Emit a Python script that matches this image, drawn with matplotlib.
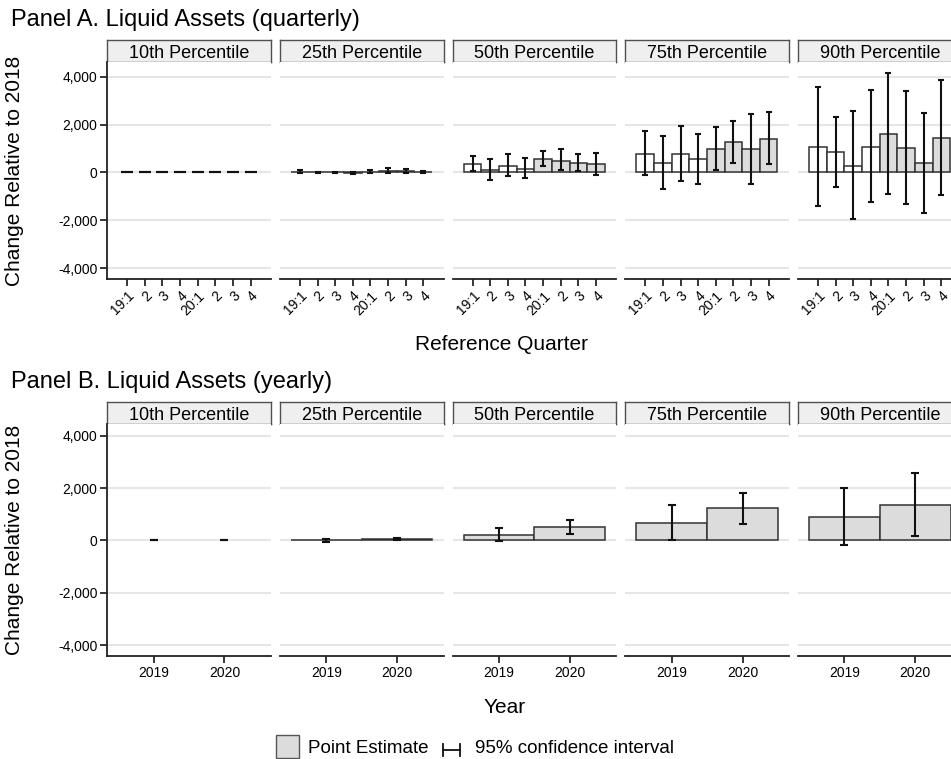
import numpy as np
import matplotlib.pyplot as plt
from matplotlib.patches import Rectangle
from matplotlib.lines import Line2D

plt.rcParams['font.family'] = ['Liberation Sans', 'DejaVu Sans']

# Facet labels and x categories
percentiles = ["10th Percentile", "25th Percentile", "50th Percentile",
               "75th Percentile", "90th Percentile"]
quarters = ["19:1", "2", "3", "4", "20:1", "2", "3", "4"]
years = ["2019", "2020"]
y_ticks = [-4000, -2000, 0, 2000, 4000]
y_tick_labels = ["-4,000", "-2,000", "0", "2,000", "4,000"]

# Panel A: quarterly point estimates and 95% CI, one row per percentile
q_est = [[0, 0, 0, 0, 0, 0, 0, 0],
         [30, 10, 5, -20, 40, 60, 50, 20],
         [350, 100, 280, 155, 575, 490, 390, 335],
         [785, 390, 785, 545, 995, 1260, 965, 1415],
         [1065, 840, 280, 1080, 1625, 1035, 380, 1430]]
q_lo = [[0, 0, 0, 0, 0, 0, 0, 0],
        [-40, -40, -40, -80, -10, -40, -10, -30],
        [60, -320, -130, -240, 280, 85, 56, -100],
        [-125, -690, -335, -475, 125, 405, -475, 335],
        [-1415, -600, -1945, -1245, -910, -1330, -1680, -950]]
q_hi = [[0, 0, 0, 0, 0, 0, 0, 0],
        [100, 40, 40, 30, 120, 180, 150, 70],
        [670, 560, 760, 590, 910, 980, 760, 830],
        [1735, 1510, 1945, 1610, 1905, 2155, 2435, 2535],
        [3570, 2325, 2560, 3445, 4160, 3415, 2490, 3850]]

# Panel B: yearly point estimates and 95% CI
y_est = [[0, 0], [5, 40], [205, 500], [665, 1230], [895, 1355]]
y_lo = [[0, 0], [-50, 0], [-10, 245], [5, 640], [-180, 165]]
y_hi = [[0, 0], [40, 100], [460, 770], [1370, 1830], [2000, 2585]]

W, H = 951, 759
fig = plt.figure(figsize=(W / 100, H / 100), dpi=100)

GRAY = '#dcdcdc'
EDGE = '#333333'


def px_axes(x0, y0, x1, y1):
    return fig.add_axes([x0 / W, 1 - y1 / H, (x1 - x0) / W, (y1 - y0) / H])


panel_x0 = [107.3 + i * 172.7 for i in range(5)]
panel_w = 163.5


def strip(x0, y0, y1, label):
    ax = px_axes(x0, y0, x0 + panel_w, y1)
    ax.set_facecolor('#efefef')
    ax.set_xticks([])
    ax.set_yticks([])
    for s in ax.spines.values():
        s.set_color('#505050')
        s.set_linewidth(1.0)
    ax.text(0.5, 0.48, label, ha='center', va='center_baseline', fontsize=13,
            transform=ax.transAxes)


def draw_panel(ax, est, lo, hi, fills, capsize, first):
    est = np.asarray(est, dtype=float)
    lo = np.asarray(lo, dtype=float)
    hi = np.asarray(hi, dtype=float)
    x = np.arange(1, len(est) + 1)
    nz = est != 0
    if nz.any():
        ax.bar(x[nz], est[nz], width=1.0,
               color=[f for f, m in zip(fills, nz) if m],
               edgecolor=EDGE, linewidth=1.1, zorder=2)
    ax.errorbar(x, est, yerr=[est - lo, hi - est], fmt='none',
                ecolor='#111111', elinewidth=1.5, capsize=capsize,
                capthick=1.5, zorder=3)
    ax.set_yticks(y_ticks)
    ax.grid(axis='y', color='#e6e6e6', linewidth=1.5)
    ax.set_axisbelow(True)
    for s in ['top', 'right']:
        ax.spines[s].set_visible(False)
    ax.spines['bottom'].set_linewidth(1.3)
    ax.spines['bottom'].set_color('#222222')
    if first:
        ax.spines['left'].set_linewidth(1.3)
        ax.spines['left'].set_color('#222222')
        ax.set_yticklabels(y_tick_labels, fontsize=10)
        ax.tick_params(axis='y', length=5, width=1.1, pad=2)
    else:
        ax.spines['left'].set_visible(False)
        ax.tick_params(axis='y', left=False, labelleft=False)
    ax.tick_params(axis='x', length=5, width=1.1, pad=2)


# Panel A
fig.text(11 / W, 1 - 26 / H, "Panel A. Liquid Assets (quarterly)",
         fontsize=17, va='baseline', ha='left')
for i, name in enumerate(percentiles):
    x0 = panel_x0[i]
    strip(x0, 40, 62, name)
    ax = px_axes(x0, 62, x0 + panel_w, 279)
    fills = ['white'] * 4 + [GRAY] * 4
    cap = 4.5 if i == 0 else 2.4
    draw_panel(ax, q_est[i], q_lo[i], q_hi[i], fills, cap, i == 0)
    ax.set_ylim(-4447, 4614)
    ax.set_xlim(-0.13, 9.15)
    ax.set_xticks(np.arange(1, 9))
    ax.set_xticklabels(quarters, rotation=45, ha='right', va='top',
                       rotation_mode='anchor', fontsize=10)
    if i == 0:
        ax.set_ylabel("Change Relative to 2018", fontsize=15)
        ax.yaxis.set_label_coords(-(107.3 - 24) / panel_w, 0.5)

fig.text(501 / W, 1 - 350 / H, "Reference Quarter", fontsize=15,
         ha='center', va='baseline')

# Panel B
fig.text(11 / W, 1 - 388 / H, "Panel B. Liquid Assets (yearly)",
         fontsize=17, va='baseline', ha='left')
for i, name in enumerate(percentiles):
    x0 = panel_x0[i]
    strip(x0, 402, 424, name)
    ax = px_axes(x0, 424, x0 + panel_w, 656)
    cap = 2.8
    draw_panel(ax, y_est[i], y_lo[i], y_hi[i], [GRAY, GRAY], cap, i == 0)
    ax.set_ylim(-4421, 4459)
    ax.set_xlim(0.344, 2.656)
    ax.set_xticks([1, 2])
    ax.set_xticklabels(years, fontsize=10)
    if i == 0:
        ax.set_ylabel("Change Relative to 2018", fontsize=15)
        ax.yaxis.set_label_coords(-(107.3 - 24) / panel_w, 0.5)

fig.text(505 / W, 1 - 713 / H, "Year", fontsize=15, ha='center', va='baseline')

# Legend drawn in figure pixel space
tr = fig.transFigure
fig.patches.append(Rectangle((276 / W, 1 - 758 / H), 23 / W, 23 / H,
                             facecolor=GRAY, edgecolor='#555555',
                             linewidth=1.0, transform=tr))
fig.text(308 / W, 1 - 753 / H, "Point Estimate", fontsize=13.5,
         ha='left', va='baseline')
for xs, ys in [([443, 460], [750, 750]), ([443, 443], [744, 756]),
               ([460, 460], [744, 756])]:
    fig.lines.append(Line2D([v / W for v in xs], [1 - v / H for v in ys],
                            color='#111111', linewidth=1.3, transform=tr))
fig.text(475 / W, 1 - 753 / H, "95% confidence interval", fontsize=13.5,
         ha='left', va='baseline')

fig.savefig('out.png', dpi=100)
